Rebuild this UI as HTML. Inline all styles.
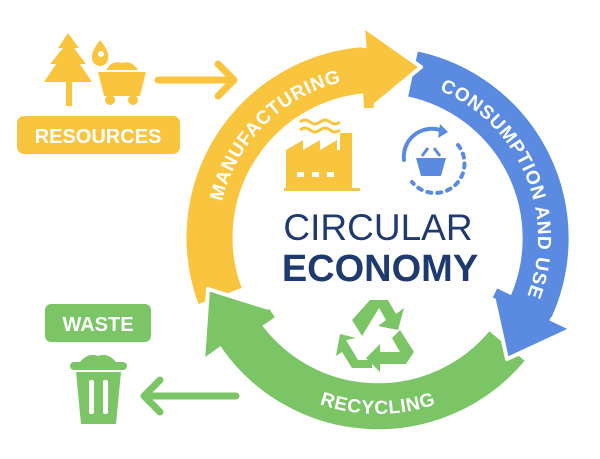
<!DOCTYPE html>
<html><head><meta charset="utf-8"><style>
html,body{margin:0;padding:0;background:#fff;}
svg{display:block;font-family:"Liberation Sans",sans-serif;}
</style></head><body>
<svg width="600" height="459" viewBox="0 0 600 459">
<defs>
<path id="tm" d="M 220.4 265.8 A 160 160 0 0 1 405.8 80.4"/>
<path id="tc" d="M 424.8 85 A 160 160 0 0 1 520.6 310.6"/>
<path id="tr" d="M 264.9 372.8 A 176 176 0 0 0 491.1 372.8"/>
</defs>
<!-- bands -->
<path d="M 413 74 A 168 168 0 0 1 530 309" fill="none" stroke="#5a8be0" stroke-width="46"/>
<path d="M 507 346 A 168 168 0 0 1 240 334" fill="none" stroke="#7bc566" stroke-width="46"/>
<path d="M 220 296 A 168 168 0 0 1 366 70" fill="none" stroke="#f9c43e" stroke-width="46"/>
<!-- heads -->
<polygon points="369,110 363,26 421,67" fill="#f9c43e" stroke="#fff" stroke-width="4" stroke-linejoin="round"/>
<path d="M 369 108 L 366 48" stroke="#f9c43e" stroke-width="10"/>
<polygon points="492,291 572,329 507,359" fill="#5a8be0" stroke="#fff" stroke-width="4" stroke-linejoin="round"/>
<path d="M 495 293 L 550 319" stroke="#5a8be0" stroke-width="10"/>
<polygon points="275,310 203,361 208,289" fill="#7bc566" stroke="#fff" stroke-width="4" stroke-linejoin="round"/>
<path d="M 272 313 L 222 348" stroke="#7bc566" stroke-width="10"/>
<!-- ring labels -->
<text font-size="19" font-weight="bold" fill="#fff" letter-spacing="0.8"><textPath href="#tm" startOffset="50%" text-anchor="middle">MANUFACTURING</textPath></text>
<text font-size="19" font-weight="bold" fill="#fff" letter-spacing="0.8"><textPath href="#tc" startOffset="50%" text-anchor="middle">CONSUMPTION AND USE</textPath></text>
<text font-size="19" font-weight="bold" fill="#fff" letter-spacing="0.8"><textPath href="#tr" startOffset="50%" text-anchor="middle">RECYCLING</textPath></text>
<!-- center text -->
<text x="378" y="240" font-size="37" fill="#1f3a6f" text-anchor="middle">CIRCULAR</text>
<text x="380" y="281" font-size="38" font-weight="bold" fill="#1f3a6f" text-anchor="middle">ECONOMY</text>
<!-- factory -->
<g fill="#f9c43e">
<path d="M 286 190 L 286 150 L 303 140 L 303 150 L 320 140 L 320 150 L 337 140 L 337 150 L 340 150 L 340 133 L 352 133 L 352 190 Z"/>
<rect x="284" y="188" width="76" height="3"/>
</g>
<rect x="297" y="172" width="7" height="5" fill="#fff"/><rect x="312" y="172" width="7" height="5" fill="#fff"/><rect x="327" y="172" width="7" height="5" fill="#fff"/>
<path d="M 300 130 q 5 -4 10 0 t 10 0 t 10 0 t 10 0 M 300 122 q 5 -4 10 0 t 10 0 t 10 0 t 10 0" fill="none" stroke="#f9c43e" stroke-width="3"/>
<!-- basket -->
<g stroke="#5a8be0" fill="none" stroke-width="4" stroke-linecap="round">
<path d="M 404 160 A 28 28 0 0 1 440 130"/>
<path d="M 458 145 A 28 28 0 0 1 412 182" stroke-dasharray="4 6"/>
</g>
<polygon points="440,124 448,132 438,138" fill="#5a8be0"/>
<path d="M 416 158 L 446 158 L 441 176 L 421 176 Z" fill="#5a8be0"/>
<path d="M 422 156 L 428 148 M 440 156 L 434 148" stroke="#5a8be0" stroke-width="3"/>
<!-- recycle -->
<g fill="#7bc566">
<polygon points="370,300 388,300 396,314 404,308 398,330 378,326 386,320 379,308 362,336 352,320"/>
<polygon points="400,330 414,352 406,364 380,364 380,372 366,358 380,344 380,352 400,352 392,338"/>
<polygon points="346,340 358,360 372,360 372,368 352,368 342,352 336,356 340,334 356,338"/>
</g>
<!-- resources icons -->
<g fill="#f9c43e">
<polygon points="68,33 58,48 63,48 50,64 56,64 44,82 66,82 66,106 72,106 72,82 92,82 80,64 86,64 74,48 79,48"/>
<path d="M 100 40 Q 110 52 108 58 A 8 8 0 0 1 92 58 Q 91 52 100 40 Z"/>
<path d="M 98 72 L 146 72 L 140 96 L 104 96 Z"/>
<path d="M 106 70 Q 112 60 122 63 Q 132 60 138 70 Z"/>
<circle cx="110" cy="100" r="5"/><circle cx="133" cy="100" r="5"/>
</g>
<circle cx="101" cy="54" r="3" fill="#fff"/>
<path d="M 158 80 L 232 80 M 218 64 L 234 80 L 218 96" fill="none" stroke="#f9c43e" stroke-width="7" stroke-linecap="round" stroke-linejoin="round"/>
<rect x="17" y="116" width="163" height="38" rx="7" fill="#f9c43e"/>
<text x="98" y="143" font-size="20" font-weight="bold" fill="#fff" text-anchor="middle">RESOURCES</text>
<!-- waste -->
<rect x="45" y="304" width="106" height="38" rx="6" fill="#7bc566"/>
<text x="98" y="331" font-size="20" font-weight="bold" fill="#fff" text-anchor="middle">WASTE</text>
<g fill="#7bc566">
<path d="M 80 362 Q 88 352 98 356 Q 108 352 116 362 Z"/>
<rect x="70" y="362" width="57" height="8" rx="4"/>
<path d="M 76 372 L 121 372 L 116 424 L 81 424 Z"/>
</g>
<rect x="89" y="380" width="5" height="34" rx="2" fill="#fff"/><rect x="103" y="380" width="5" height="34" rx="2" fill="#fff"/>
<path d="M 236 396 L 144 396 M 160 380 L 144 396 L 160 412" fill="none" stroke="#7bc566" stroke-width="7" stroke-linecap="round" stroke-linejoin="round"/>
</svg>
</body></html>
